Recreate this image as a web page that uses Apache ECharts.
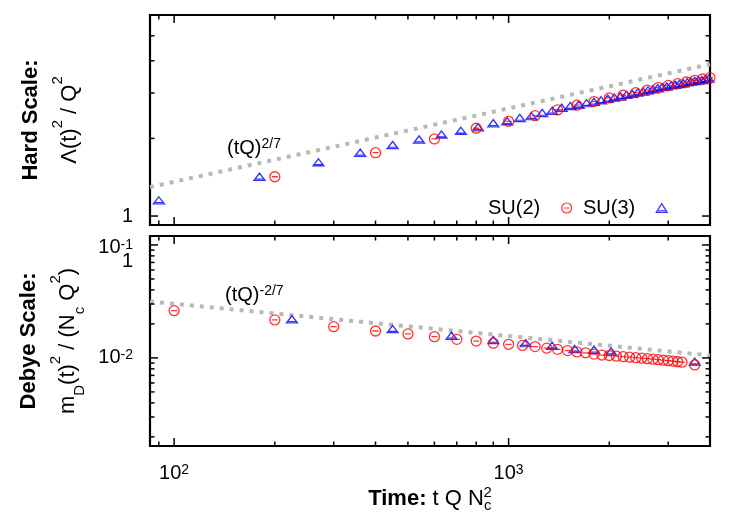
<!DOCTYPE html>
<html>
<head>
<meta charset="utf-8">
<script src="https://cdn.jsdelivr.net/npm/echarts@6/dist/echarts.min.js"></script>
<style>
html, body { margin: 0; padding: 0; background: #fff; }
#chart { width: 750px; height: 525px; }
</style>
</head>
<body>
<div id="chart"></div>
<script>
// 硬标度 Λ(t)^2/Q^2
const hardTimeSU2 = [200, 400, 600, 800, 1000, 1200, 1400, 1600, 1800, 2000, 2200, 2400, 2600, 2800, 3000, 3200, 3400, 3600, 3800, 4000];
const hardValSU2 = [1.42, 1.76, 1.99, 2.19, 2.33, 2.45, 2.58, 2.69, 2.78, 2.87, 2.94, 3.01, 3.08, 3.15, 3.21, 3.26, 3.31, 3.36, 3.40, 3.44];
const hardTimeSU3 = [90, 180, 270, 360, 450, 540, 630, 720, 810, 900, 990, 1080, 1170, 1260, 1350, 1440, 1530, 1620, 1710, 1800, 1890, 1980, 2070, 2160, 2250, 2340, 2430, 2520, 2610, 2700, 2790, 2880, 2970, 3060, 3150, 3240, 3330, 3420, 3510, 3600, 3690, 3780, 3870, 3960];
const hardValSU3 = [1.15, 1.42, 1.615, 1.76, 1.885, 1.98, 2.07, 2.14, 2.21, 2.29, 2.33, 2.40, 2.44, 2.51, 2.56, 2.63, 2.67, 2.70, 2.74, 2.77, 2.81, 2.85, 2.88, 2.91, 2.95, 2.98, 3.01, 3.04, 3.07, 3.10, 3.13, 3.16, 3.18, 3.21, 3.23, 3.25, 3.27, 3.30, 3.32, 3.34, 3.36, 3.37, 3.39, 3.41];

// Debye 标度 m_D(t)^2/(Nc Q^2)
const debyeTimeSU2 = [100, 200, 300, 400, 500, 600, 700, 800, 900, 1000, 1100, 1200, 1300, 1400, 1500, 1600, 1700, 1800, 1900, 2000, 2100, 2200, 2300, 2400, 2500, 2600, 2700, 2800, 2900, 3000, 3100, 3200, 3300, 3600];
const debyeValSU2 = [0.0262, 0.0217, 0.0189, 0.0173, 0.0163, 0.0154, 0.0146, 0.0141, 0.0135, 0.0132, 0.0129, 0.0126, 0.0122, 0.0119, 0.0116, 0.0113, 0.0111, 0.0108, 0.0106, 0.0105, 0.01035, 0.01025, 0.01014, 0.01004, 0.00994, 0.00984, 0.00974, 0.00964, 0.00955, 0.00945, 0.00935, 0.00925, 0.00916, 0.00867];
const debyeTimeSU3 = [225, 450, 675, 900, 1125, 1350, 1575, 1800, 2025, 3600];
const debyeValSU3 = [0.0220, 0.0180, 0.0157, 0.0144, 0.0135, 0.0128, 0.0120, 0.0118, 0.0114, 0.00927];

// 幂律参考线 (tQ)^{±2/7}
const hardGuideX = [84.7, 4000];
const hardGuideY = [1.295, 3.88];
const debyeGuideX = [84.7, 4000];
const debyeGuideY = [0.0316, 0.01052];

// 刻度
const xMajorTicks = [100, 1000];
const xMinorTicks = [90, 200, 300, 400, 500, 600, 700, 800, 900, 2000, 3000];
const hardMajorTicks = [1];
const hardMinorTicks = [2, 3, 4, 5];
const debyeMajorTicks = [0.01, 0.1];
const debyeMinorTicks = [0.002, 0.003, 0.004, 0.005, 0.006, 0.007, 0.008, 0.009, 0.02, 0.03, 0.04, 0.05, 0.06, 0.07, 0.08, 0.09];
const xTickLabels = [100, 1000];
const hardTickLabels = [1];
const debyeTickLabels = [0.1, 0.01];

const FONT = 'Liberation Sans';
const X_RANGE = [84.7, 4000];
const HARD_RANGE = [0.923, 6.02];
const DEBYE_RANGE = [0.00166, 0.12];

const CIRCLE = 'path://M0,-10A10,10,0,1,1,0,10A10,10,0,1,1,0,-10ZM-6,0L6,0';
const TRIANGLE = 'path://M0,-9L10,7L-10,7ZM-7,4L7,4';

const tickRich = {
    b: { fontFamily: FONT, fontSize: 20, color: '#000', lineHeight: 20 },
    s: { fontFamily: FONT, fontSize: 14, color: '#000', lineHeight: 10, verticalAlign: 'top' },
    c: { fontFamily: FONT, fontSize: 20, color: '#000', lineHeight: 8 },
    e: { fontSize: 10, lineHeight: 14 }
};
const nameRich = {
    h: { fontFamily: FONT, fontSize: 22, fontWeight: 'bold', color: '#000', lineHeight: 39 },
    n: { fontFamily: FONT, fontSize: 22, color: '#000', lineHeight: 39 },
    s: { fontFamily: FONT, fontSize: 15, color: '#000', lineHeight: 22, verticalAlign: 'top' },
    d: { fontFamily: FONT, fontSize: 15, color: '#000', lineHeight: 22, verticalAlign: 'bottom' }
};

function pair(xs, ys) {
    return xs.map((x, i) => [x, ys[i]]);
}

function logAxis(grid, range, extra) {
    return Object.assign({
        type: 'log', logBase: 10, gridIndex: grid, min: range[0], max: range[1],
        axisLine: { show: false, onZero: false },
        axisTick: { show: false },
        splitLine: { show: false },
        axisLabel: { show: false }
    }, extra || {});
}

// 刻度线: 内向, 四边镜像
function tickSeries(grid, side, values, len, xr, yr) {
    const horiz = side === 'bottom' || side === 'top';
    const fixed = { bottom: yr[0], top: yr[1], left: xr[0], right: xr[1] }[side];
    const dir = { bottom: [0, -1], top: [0, 1], left: [1, 0], right: [-1, 0] }[side];
    return {
        type: 'custom', xAxisIndex: grid, yAxisIndex: grid, silent: true, clip: false, z: 4,
        data: values.map(v => horiz ? [v, fixed] : [fixed, v]),
        renderItem: (params, api) => {
            const p = api.coord([api.value(0), api.value(1)]);
            return {
                type: 'line',
                shape: { x1: p[0], y1: p[1], x2: p[0] + dir[0] * len, y2: p[1] + dir[1] * len },
                style: { stroke: '#000', lineWidth: 1.5 }
            };
        }
    };
}

function allTicks(grid, xMajor, xMinor, yMajor, yMinor, xr, yr) {
    const list = [];
    ['bottom', 'top'].forEach(s => {
        list.push(tickSeries(grid, s, xMajor, 8, xr, yr));
        list.push(tickSeries(grid, s, xMinor, 4.5, xr, yr));
    });
    ['left', 'right'].forEach(s => {
        list.push(tickSeries(grid, s, yMajor, 8, xr, yr));
        list.push(tickSeries(grid, s, yMinor, 4.5, xr, yr));
    });
    return list;
}

const xAxes = [
    logAxis(0, X_RANGE),
    logAxis(1, X_RANGE, {
        axisLabel: {
            show: true, customValues: xTickLabels, margin: 17, hideOverlap: false,
            formatter: v => '{b|10}{s|' + Math.round(Math.log10(v)) + '}', rich: tickRich
        },
        name: '{b|Time:}{n| t Q N}{c|c}{z|2}',
        nameLocation: 'middle', nameGap: 39,
        nameTextStyle: { rich: {
            b: { fontFamily: FONT, fontSize: 22, fontWeight: 'bold', color: '#000', lineHeight: 28 },
            n: { fontFamily: FONT, fontSize: 22, color: '#000', lineHeight: 28 },
            c: { fontFamily: FONT, fontSize: 15, color: '#000', lineHeight: 18, verticalAlign: 'bottom' },
            z: { fontFamily: FONT, fontSize: 15, color: '#000', lineHeight: 18, verticalAlign: 'top', padding: [0, 0, 0, -8] }
        } }
    })
];

const yAxes = [
    logAxis(0, HARD_RANGE, {
        axisLabel: { show: true, customValues: hardTickLabels, margin: 17, hideOverlap: false,
            formatter: () => '{b|1}', rich: tickRich },
        name: '{h|Hard Scale:}\n{n|Λ(t)}{s|2}{n| / Q}{s|2}',
        nameLocation: 'middle', nameRotate: 90, nameGap: 61,
        nameTextStyle: { rich: nameRich }
    }),
    logAxis(1, DEBYE_RANGE, {
        axisLabel: { show: true, customValues: debyeTickLabels, margin: 17, hideOverlap: false,
            formatter: v => v > 0.05 ? '{e| }\n{b|10}{s|-1}\n{c|1}' : '{b|10}{s|-2}',
            rich: tickRich },
        name: '{h|Debye Scale:}\n{n|m}{d|D}{n|(t)}{s|2}{n| / (N}{d|c}{n| Q}{s|2}{n|)}',
        nameLocation: 'middle', nameRotate: 90, nameGap: 61,
        nameTextStyle: { rich: nameRich }
    })
];

function guideSeries(grid, xs, ys, coord, text) {
    return {
        type: 'line', xAxisIndex: grid, yAxisIndex: grid,
        data: pair(xs, ys), symbol: 'none', silent: true, z: 1,
        lineStyle: { color: '#b8b8b8', width: 4, type: [4, 6], cap: 'butt' },
        markPoint: {
            symbol: 'circle', symbolSize: 0, silent: true,
            data: [{ coord: coord }],
            label: { show: true, position: 'right', distance: 0, formatter: text,
                rich: {
                    n: { fontFamily: FONT, fontSize: 20, color: '#000', lineHeight: 24 },
                    s: { fontFamily: FONT, fontSize: 14, color: '#000', lineHeight: 14, verticalAlign: 'top' }
                } }
        }
    };
}

function pointSeries(grid, name, xs, ys, shape, color, size) {
    return {
        type: 'scatter', name: name, xAxisIndex: grid, yAxisIndex: grid,
        data: pair(xs, ys), symbol: shape, symbolSize: size, symbolKeepAspect: true,
        clip: false, z: 3,
        itemStyle: { color: 'rgba(0,0,0,0)', borderColor: color, borderWidth: 1.3 }
    };
}

// 图例: 文字在左, 符号在右
function legendFor(name, left, shape, color) {
    return {
        data: [{ name: name, icon: shape,
            itemStyle: { color: 'rgba(0,0,0,0)', borderColor: color, borderWidth: 1.2 } }],
        left: left, top: 198, padding: 0, align: 'right', selectedMode: false,
        itemWidth: 11, itemHeight: 10,
        formatter: n => '{t|' + n + '}{g| }',
        textStyle: { rich: {
            t: { fontFamily: FONT, fontSize: 20, color: '#000', lineHeight: 24 },
            g: { fontSize: 10, width: 16 }
        } }
    };
}

const chart = echarts.init(document.getElementById('chart'));
chart.setOption({
    animationDuration: 200,
    animationDurationUpdate: 200,
    animationEasing: 'linear',
    backgroundColor: '#fff',
    grid: [
        { left: 150, top: 15, width: 560, height: 210, show: true, borderColor: '#000', borderWidth: 2.2 },
        { left: 150, top: 236, width: 560, height: 210, show: true, borderColor: '#000', borderWidth: 2.2 }
    ],
    legend: [
        legendFor('SU(2)', 488, CIRCLE, '#ff0000'),
        legendFor('SU(3)', 583, TRIANGLE, '#0000ff')
    ],
    xAxis: xAxes,
    yAxis: yAxes,
    series: [
        guideSeries(0, hardGuideX, hardGuideY, [144, 1.82], '{n|(tQ)}{s|2/7}'),
        guideSeries(1, debyeGuideX, debyeGuideY, [142, 0.0354], '{n|(tQ)}{s|-2/7}')
    ].concat(
        allTicks(0, xMajorTicks, xMinorTicks, hardMajorTicks, hardMinorTicks, X_RANGE, HARD_RANGE),
        allTicks(1, xMajorTicks, xMinorTicks, debyeMajorTicks, debyeMinorTicks, X_RANGE, DEBYE_RANGE),
        [
            pointSeries(0, 'SU(3)', hardTimeSU3, hardValSU3, TRIANGLE, '#0000ff', [11, 9]),
            pointSeries(0, 'SU(2)', hardTimeSU2, hardValSU2, CIRCLE, '#ff0000', 10),
            pointSeries(1, 'SU(3)', debyeTimeSU3, debyeValSU3, TRIANGLE, '#0000ff', [11, 9]),
            pointSeries(1, 'SU(2)', debyeTimeSU2, debyeValSU2, CIRCLE, '#ff0000', 10)
        ]
    )
});
</script>
</body>
</html>
